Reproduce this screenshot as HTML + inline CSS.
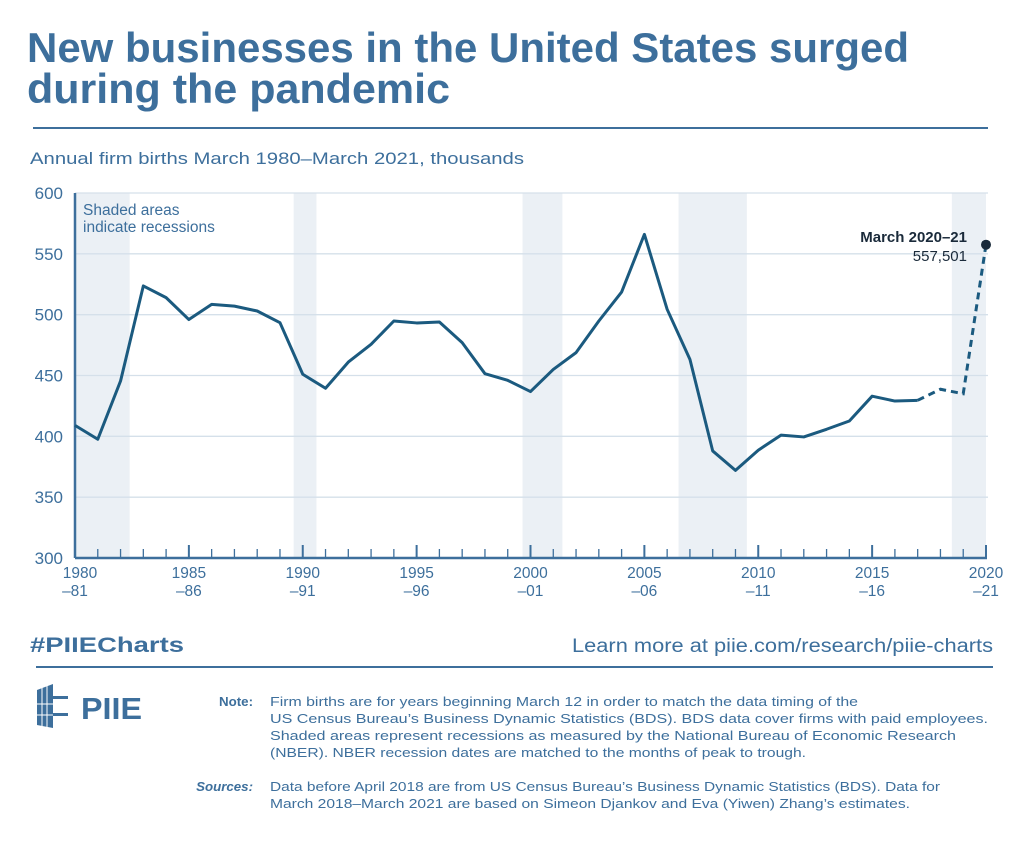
<!DOCTYPE html>
<html><head><meta charset="utf-8"><style>
body{margin:0;background:#fff;}
svg{display:block;font-family:"Liberation Sans",sans-serif;}
</style></head><body>
<svg width="1024" height="846" viewBox="0 0 1024 846">
<text x="27" y="62" font-size="42" font-weight="bold" fill="#3d6f9c" textLength="882" lengthAdjust="spacingAndGlyphs">New businesses in the United States surged</text>
<text x="27" y="103" font-size="42" font-weight="bold" fill="#3d6f9c" textLength="423" lengthAdjust="spacingAndGlyphs">during the pandemic</text>
<line x1="33" y1="128" x2="988" y2="128" stroke="#3d6f9c" stroke-width="2"/>
<text x="30" y="164" font-size="17" fill="#3d6f9c" textLength="494" lengthAdjust="spacingAndGlyphs">Annual firm births March 1980–March 2021, thousands</text>
<g id="plot"></g>
<text x="30" y="652" font-size="21" font-weight="bold" fill="#3d6f9c" textLength="154" lengthAdjust="spacingAndGlyphs">#PIIECharts</text>
<text x="993" y="652" font-size="19" text-anchor="end" fill="#3d6f9c" textLength="421" lengthAdjust="spacingAndGlyphs">Learn more at piie.com/research/piie-charts</text>
<line x1="36" y1="667" x2="993" y2="667" stroke="#3d6f9c" stroke-width="2"/>
<g fill="#3d6f9c">
<polygon points="37,690 53,684 53,728 37,725"/>
<rect x="52" y="696" width="16" height="3" fill="#3d6f9c"/>
<rect x="52" y="713" width="16" height="3" fill="#3d6f9c"/>
<line x1="42" y1="686" x2="42" y2="726" stroke="#fff" stroke-width="1"/>
<line x1="47" y1="686" x2="47" y2="727" stroke="#fff" stroke-width="1"/>
<line x1="37" y1="704" x2="53" y2="704" stroke="#fff" stroke-width="1"/>
<line x1="37" y1="715" x2="53" y2="715" stroke="#fff" stroke-width="1"/>
<text x="81" y="719" font-size="31" font-weight="bold" textLength="61" lengthAdjust="spacingAndGlyphs">PIIE</text>
</g>
<g font-size="13.3" fill="#3d6f9c">
<text x="253" y="706" font-weight="bold" text-anchor="end">Note:</text>
<text x="270" y="706" textLength="588" lengthAdjust="spacingAndGlyphs">Firm births are for years beginning March 12 in order to match the data timing of the</text>
<text x="270" y="723" textLength="718" lengthAdjust="spacingAndGlyphs">US Census Bureau’s Business Dynamic Statistics (BDS). BDS data cover firms with paid employees.</text>
<text x="270" y="740" textLength="686" lengthAdjust="spacingAndGlyphs">Shaded areas represent recessions as measured by the National Bureau of Economic Research</text>
<text x="270" y="757" textLength="536" lengthAdjust="spacingAndGlyphs">(NBER). NBER recession dates are matched to the months of peak to trough.</text>
<text x="253" y="791" font-weight="bold" font-style="italic" text-anchor="end">Sources:</text>
<text x="270" y="791" textLength="670" lengthAdjust="spacingAndGlyphs">Data before April 2018 are from US Census Bureau’s Business Dynamic Statistics (BDS). Data for</text>
<text x="270" y="808" textLength="640" lengthAdjust="spacingAndGlyphs">March 2018–March 2021 are based on Simeon Djankov and Eva (Yiwen) Zhang’s estimates.</text>
</g>
</svg>
<script>
const years=[1980,1981,1982,1983,1984,1985,1986,1987,1988,1989,1990,1991,1992,1993,1994,1995,1996,1997,1998,1999,2000,2001,2002,2003,2004,2005,2006,2007,2008,2009,2010,2011,2012,2013,2014,2015,2016,2017];
const births=[409,397.6,445.5,523.6,514,496,508.5,507,503,493.4,451,439.5,461,475.6,494.8,493.2,494,477,451.5,446,436.8,455,468.8,494.8,518.6,566,504.4,463.3,388,372,388.6,401,399.5,405.8,412.6,433,429,429.6];
const estYears=[2017,2018,2019,2020];
const estimates=[429.6,438.7,435,557.501];
const recessionStart=[1980,1989.6,1999.65,2006.5,2018.5];
const recessionEnd=[1982.4,1990.6,2001.4,2009.5,2020];
const yTicks=[300,350,400,450,500,550,600];
const xMajor=[1980,1985,1990,1995,2000,2005,2010,2015,2020];
const xLabels2=["–81","–86","–91","–96","–01","–06","–11","–16","–21"];

const NS="http://www.w3.org/2000/svg";
const g=document.getElementById('plot');
const X0=75,X1=986,Y0=558,Y1=193;
const x=v=>X0+(v-1980)/40*(X1-X0);
const y=v=>Y0-(v-300)/300*(Y0-Y1);
function mk(t,a){const e=document.createElementNS(NS,t);for(const k in a)e.setAttribute(k,a[k]);g.appendChild(e);return e;}
recessionStart.forEach((s,i)=>{const r=mk('rect',{x:x(s),y:Y1,width:x(recessionEnd[i])-x(s),height:Y0-Y1,fill:'#ebf0f5'});

});
yTicks.forEach(t=>{if(t>300){const l=mk('line',{x1:X0,x2:X1+2,y1:y(t),y2:y(t),stroke:'#d5e0ea','stroke-width':1.3});

}
const tx=mk('text',{x:63,y:y(t)+6,'font-size':17,fill:'#3d6f9c','text-anchor':'end'});tx.textContent=t;

});
for(let yr=1980;yr<=2020;yr++){const maj=yr%5===0;const l=mk('line',{x1:x(yr),x2:x(yr),y1:Y0,y2:Y0-(maj?13:9),stroke:'#3d6f9c','stroke-width':maj?2:1.3});

}
const ax=mk('line',{x1:X0,x2:X1+1,y1:Y0,y2:Y0,stroke:'#3d6f9c','stroke-width':2.5});


const ay=mk('line',{x1:X0,x2:X0,y1:Y1,y2:Y0,stroke:'#3d6f9c','stroke-width':2.5});


xMajor.forEach((yr,i)=>{const t1=mk('text',{x:x(yr)+(i==0?5:0),y:578,'font-size':15.5,fill:'#3d6f9c','text-anchor':'middle'});t1.textContent=yr;


const t2=mk('text',{x:x(yr),y:596,'font-size':15.5,fill:'#3d6f9c','text-anchor':'middle'});t2.textContent=xLabels2[i];

});
const p=mk('polyline',{points:years.map((yr,i)=>x(yr)+','+y(births[i])).join(' '),fill:'none',stroke:'#1b5a7f','stroke-width':3,'stroke-linejoin':'round'});


const d=mk('polyline',{points:estYears.map((yr,i)=>x(yr)+','+y(estimates[i])).join(' '),fill:'none',stroke:'#1b5a7f','stroke-width':3,'stroke-dasharray':'7,5'});


const c=mk('circle',{cx:x(2020),cy:y(estimates[3]),r:5,fill:'#1a2a3a'});


const a1=mk('text',{x:967,y:242,'font-size':15,'font-weight':'bold',fill:'#1a2a3a','text-anchor':'end'});a1.textContent='March 2020–21';


const a2=mk('text',{x:967,y:261,'font-size':15,fill:'#1a2a3a','text-anchor':'end'});a2.textContent='557,501';


const n1=mk('text',{x:83,y:215,'font-size':15.5,fill:'#3d6f9c'});n1.textContent='Shaded areas';


const n2=mk('text',{x:83,y:232,'font-size':15.5,fill:'#3d6f9c'});n2.textContent='indicate recessions';


</script>
</body></html>
